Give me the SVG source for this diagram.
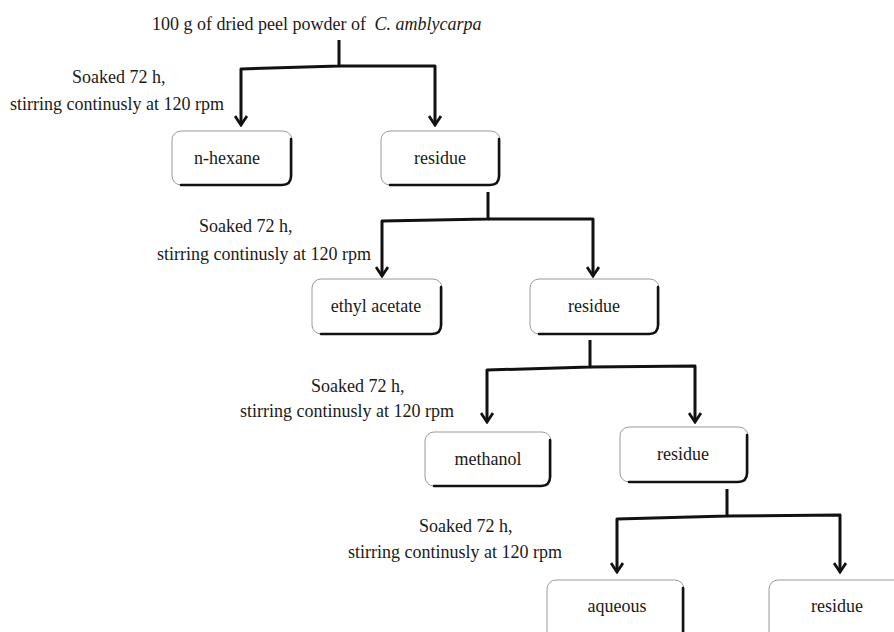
<svg xmlns="http://www.w3.org/2000/svg" width="894" height="632" viewBox="0 0 894 632">
<style>
text{font-family:"Liberation Serif","Times New Roman",serif;font-size:18px;fill:#1a1a1a}
.c{text-anchor:middle}
.box{fill:#fff;stroke:#9a9a9a;stroke-width:1}
.sh{fill:none;stroke:#111;stroke-width:2.5;stroke-linecap:round}
.ln{fill:none;stroke:#111;stroke-width:3;stroke-linejoin:round}
</style>
<defs>
<marker id="ah" viewBox="0 0 12 14" refX="10" refY="7" markerWidth="12" markerHeight="14" markerUnits="userSpaceOnUse" orient="auto">
<path d="M1,1 L10,7 L1,13" fill="none" stroke="#111" stroke-width="2.8" stroke-linejoin="miter"/>
</marker>
</defs>
<rect width="894" height="632" fill="#fff"/>
<g id="title"><text x="152" y="30">100 g of dried peel powder of <tspan dx="4" font-style="italic">C. amblycarpa</tspan></text></g>
<g id="labels">
<text x="72" y="83">Soaked 72 h,</text>
<text x="10" y="110">stirring continusly at 120 rpm</text>
<text x="199" y="232">Soaked 72 h,</text>
<text x="157" y="260">stirring continusly at 120 rpm</text>
<text x="311" y="392">Soaked 72 h,</text>
<text x="240" y="417">stirring continusly at 120 rpm</text>
<text x="419" y="532">Soaked 72 h,</text>
<text x="348" y="558">stirring continusly at 120 rpm</text>
</g>
<g id="connectors">
<path class="ln" d="M339,40 V66 L241,69 V125" marker-end="url(#ah)"/>
<path class="ln" d="M339,66 L435,66 V125" marker-end="url(#ah)"/>
<path class="ln" d="M488,192 V219 L382,221 V276" marker-end="url(#ah)"/>
<path class="ln" d="M488,219 L593,219 V276" marker-end="url(#ah)"/>
<path class="ln" d="M590,340 V367 L487,370 V422" marker-end="url(#ah)"/>
<path class="ln" d="M590,367 L695,366 V422" marker-end="url(#ah)"/>
<path class="ln" d="M727,489 V516 L617,519 V572" marker-end="url(#ah)"/>
<path class="ln" d="M727,516 L840,515 V572" marker-end="url(#ah)"/>
</g>
<g id="n-hexane">
<rect class="box" x="172" y="131" width="120" height="54" rx="9"/>
<path class="sh" d="M291,139 V176 Q291,185 282,185 H181"/>
<text class="c" x="227" y="164">n-hexane</text>
</g>
<g id="residue1">
<rect class="box" x="381" y="131" width="119" height="54" rx="9"/>
<path class="sh" d="M499,139 V176 Q499,185 490,185 H390"/>
<text class="c" x="440" y="164">residue</text>
</g>
<g id="ethyl-acetate">
<rect class="box" x="312" y="279" width="130" height="55" rx="9"/>
<path class="sh" d="M441,287 V325 Q441,334 432,334 H321"/>
<text class="c" x="376" y="312">ethyl acetate</text>
</g>
<g id="residue2">
<rect class="box" x="530" y="279" width="129" height="55" rx="9"/>
<path class="sh" d="M658,287 V325 Q658,334 649,334 H539"/>
<text class="c" x="594" y="312">residue</text>
</g>
<g id="methanol">
<rect class="box" x="425" y="432" width="126" height="54" rx="9"/>
<path class="sh" d="M550,440 V477 Q550,486 541,486 H434"/>
<text class="c" x="488" y="465">methanol</text>
</g>
<g id="residue3">
<rect class="box" x="620" y="427" width="128" height="55" rx="9"/>
<path class="sh" d="M747,435 V473 Q747,482 738,482 H629"/>
<text class="c" x="683" y="460">residue</text>
</g>
<g id="aqueous">
<rect class="box" x="547" y="580" width="137" height="62" rx="9"/>
<path class="sh" d="M683,588 V640"/>
<text class="c" x="617" y="612">aqueous</text>
</g>
<g id="residue4">
<rect class="box" x="769" y="580" width="140" height="62" rx="9"/>
<text class="c" x="837" y="612">residue</text>
</g>
</svg>
